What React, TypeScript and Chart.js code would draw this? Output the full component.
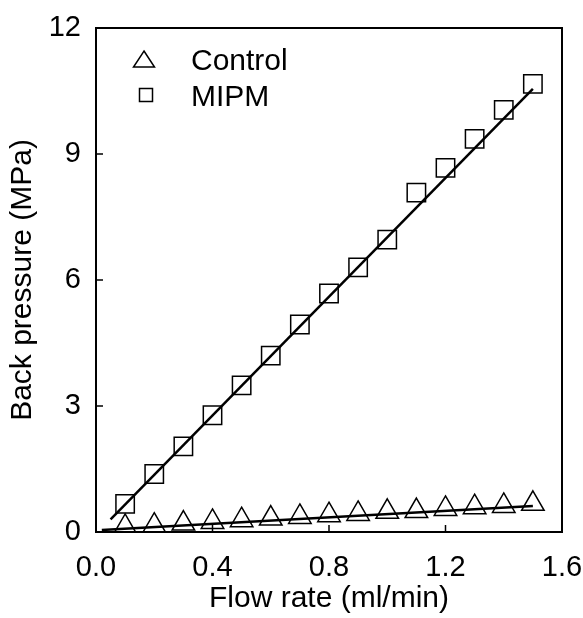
import React, { useEffect, useRef } from "react";
import { Chart, registerables } from "chart.js";

Chart.register(...registerables);

const flowRate = [0.1, 0.2, 0.3, 0.4, 0.5, 0.6, 0.7, 0.8, 0.9, 1.0, 1.1, 1.2, 1.3, 1.4, 1.5];
const controlPressure = [0.12, 0.15, 0.2, 0.24, 0.28, 0.32, 0.36, 0.4, 0.43, 0.48, 0.5, 0.55, 0.59, 0.62, 0.67];
const mipmPressure = [0.67, 1.38, 2.04, 2.78, 3.49, 4.2, 4.94, 5.68, 6.3, 6.96, 8.08, 8.67, 9.36, 10.05, 10.67];

const mipmFitFlow = [0.05, 1.5];
const mipmFitPressure = [0.3, 10.55];
const controlFitFlow = [0.02, 1.5];
const controlFitPressure = [0.05, 0.62];

const seriesNames = ["Control", "MIPM"];
const xTicks = [0, 0.4, 0.8, 1.2, 1.6];
const yTicks = [0, 3, 6, 9, 12];
const xTitle = "Flow rate (ml/min)";
const yTitle = "Back pressure (MPa)";

const FONT = "'Liberation Sans', Arial, Helvetica, sans-serif";

function drawTriangle(ctx: CanvasRenderingContext2D, x: number, y: number, w: number, h: number) {
  ctx.beginPath();
  ctx.moveTo(x, y - h / 2);
  ctx.lineTo(x + w / 2, y + h / 2);
  ctx.lineTo(x - w / 2, y + h / 2);
  ctx.closePath();
  ctx.stroke();
}

const framePlugin = {
  id: "frame",
  afterDraw(chart: any) {
    const { ctx, chartArea } = chart;
    const { left, right, top, bottom } = chartArea;
    ctx.save();
    ctx.strokeStyle = "#000";
    ctx.lineWidth = 2;
    ctx.strokeRect(left, top, right - left, bottom - top);
    ctx.lineWidth = 1.5;
    const xs = chart.scales.x;
    const ys = chart.scales.y;
    ctx.beginPath();
    xTicks.forEach((v) => {
      const px = xs.getPixelForValue(v);
      ctx.moveTo(px, bottom);
      ctx.lineTo(px, bottom - 7);
    });
    yTicks.forEach((v) => {
      const py = ys.getPixelForValue(v);
      ctx.moveTo(left, py);
      ctx.lineTo(left + 7, py);
    });
    ctx.stroke();

    // legend (inside plot, upper left)
    ctx.font = `30px ${FONT}`;
    ctx.fillStyle = "#000";
    ctx.textBaseline = "middle";
    ctx.textAlign = "left";
    ctx.lineWidth = 1.5;
    const mx = left + 50;
    const tx = left + 95;
    const r1 = top + 31;
    const r2 = top + 67;
    drawTriangle(ctx, mx - 2, r1, 21, 16);
    ctx.fillText(seriesNames[0], tx, r1 + 3);
    ctx.beginPath();
    ctx.rect(mx - 6.5, r2 - 6.5, 13, 13);
    ctx.stroke();
    ctx.fillText(seriesNames[1], tx, r2 + 3);
    ctx.restore();
  },
};

export default function App() {
  const ref = useRef<HTMLCanvasElement>(null);
  useEffect(() => {
    document.body.style.margin = "0";
    const canvas = ref.current!;
    const chart = new Chart(canvas, {
      type: "scatter",
      data: {
        datasets: [
          {
            label: seriesNames[0],
            data: flowRate.map((x, i) => ({ x, y: controlPressure[i] })),
            pointStyle: "triangle",
            pointRadius: 13,
            pointBorderWidth: 1.5,
            pointBorderColor: "#000",
            pointBackgroundColor: "rgba(0,0,0,0)",
            showLine: false,
          },
          {
            label: seriesNames[1],
            data: flowRate.map((x, i) => ({ x, y: mipmPressure[i] })),
            pointStyle: "rect",
            pointRadius: 13,
            pointBorderWidth: 1.5,
            pointBorderColor: "#000",
            pointBackgroundColor: "rgba(0,0,0,0)",
            showLine: false,
          },
          {
            label: "MIPM fit",
            data: mipmFitFlow.map((x, i) => ({ x, y: mipmFitPressure[i] })),
            showLine: true,
            pointRadius: 0,
            borderColor: "#000",
            borderWidth: 2.5,
          },
          {
            label: "Control fit",
            data: controlFitFlow.map((x, i) => ({ x, y: controlFitPressure[i] })),
            showLine: true,
            pointRadius: 0,
            borderColor: "#000",
            borderWidth: 2.5,
          },
        ],
      },
      options: {
        responsive: false,
        animation: false,
        layout: { padding: { top: 28, right: 21, left: 0, bottom: 0 } },
        plugins: { legend: { display: false }, tooltip: { enabled: false } },
        scales: {
          x: {
            type: "linear",
            min: 0,
            max: 1.6,
            afterBuildTicks: (s: any) => {
              s.ticks = xTicks.map((v) => ({ value: v }));
            },
            afterFit: (s: any) => {
              s.height = 86;
              s.paddingLeft = 0;
              s.paddingRight = 0;
            },
            grid: { display: false, drawTicks: false },
            border: { display: false },
            ticks: {
              color: "#000",
              padding: 19,
              font: { family: FONT, size: 29 },
              callback: (v: any) => Number(v).toFixed(1),
            },
            title: {
              display: true,
              text: xTitle,
              color: "#000",
              font: { family: FONT, size: 30 },
              padding: { top: 0, bottom: 1 },
            },
          },
          y: {
            type: "linear",
            min: 0,
            max: 12,
            afterBuildTicks: (s: any) => {
              s.ticks = yTicks.map((v) => ({ value: v }));
            },
            afterFit: (s: any) => {
              s.width = 96;
              s.paddingTop = 0;
              s.paddingBottom = 0;
            },
            grid: { display: false, drawTicks: false },
            border: { display: false },
            ticks: {
              color: "#000",
              padding: 15,
              font: { family: FONT, size: 29 },
            },
            title: {
              display: true,
              text: yTitle,
              color: "#000",
              font: { family: FONT, size: 30 },
              padding: { top: 5, bottom: 0 },
            },
          },
        },
      },
      plugins: [framePlugin],
    });
    return () => chart.destroy();
  }, []);
  return (
    <div style={{ width: 583, height: 618, background: "#fff" }}>
      <canvas ref={ref} width={583} height={618} />
    </div>
  );
}
